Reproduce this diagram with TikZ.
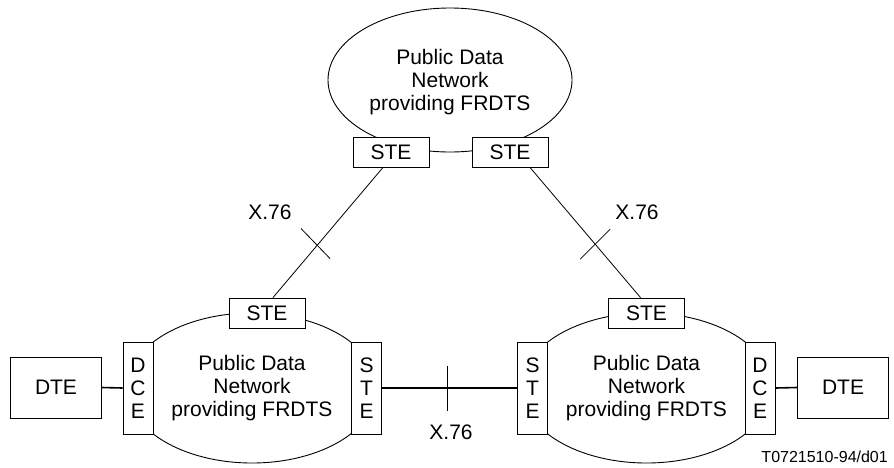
\documentclass[tikz,border=0pt]{standalone}
\usepackage{fontspec}
\setmainfont{Liberation Sans}
\begin{document}
\begin{tikzpicture}[x=1pt,y=-1pt,
  every node/.style={font=\fontsize{21}{23}\selectfont, inner sep=0pt},
  box/.style={draw, fill=white, line width=0.9pt, align=center},
  hbox/.style={box, minimum width=76pt, minimum height=30pt},
  vbox/.style={box, minimum width=30pt, minimum height=92pt},
  dtebox/.style={box, minimum width=91pt, minimum height=61pt},
  net/.style={draw, line width=0.9pt},
  thin link/.style={line width=0.8pt},
  thick link/.style={line width=1.6pt},
  nettext/.style={align=center}]
\useasboundingbox (0,0) rectangle (894,467);

% networks
\draw[net] (450,80) ellipse [x radius=122, y radius=72];
\draw[net] (252,388) ellipse [x radius=125, y radius=75];
\draw[net] (646.5,388) ellipse [x radius=125, y radius=75];

\node[nettext] (netT) at (450,82) {Public Data\\Network\\providing FRDTS};
\node[nettext] (netL) at (252,388) {Public Data\\Network\\providing FRDTS};
\node[nettext] (netR) at (646.5,388) {Public Data\\Network\\providing FRDTS};

% signalling terminal equipment on the top network
\node[hbox] (steT1) at (391,152) {STE};
\node[hbox] (steT2) at (510,152) {STE};

% bottom left network
\node[hbox] (steL1) at (267,313) {STE};
\node[vbox] (dceL) at (138,388) {D\\C\\E};
\node[vbox] (steL2) at (366.5,388) {S\\T\\E};
\node[dtebox] (dteL) at (56,387.5) {DTE};

% bottom right network
\node[hbox] (steR1) at (646.5,313) {STE};
\node[vbox] (steR2) at (532.5,388) {S\\T\\E};
\node[vbox] (dceR) at (760,388) {D\\C\\E};
\node[dtebox] (dteR) at (843,387.5) {DTE};

% X.76 links
\draw[thin link] ([xshift=-8pt]steT1.south) -- coordinate[pos=0.6] (tk1) ([xshift=6pt]steL1.north);
\draw[thin link] ([xshift=20pt]steT2.south) -- coordinate[pos=0.59] (tk2) ([xshift=-6pt]steR1.north);
\draw[thick link] (steL2.east) -- coordinate (tk3) (steR2.west);
\draw[thick link] (dteL.east) -- (dceL.west);
\draw[thick link] (dceR.east) -- (dteR.west);

% cut marks across the links
\draw[thin link] ([shift={(-16,-17)}]tk1) -- ([shift={(13,13)}]tk1);
\draw[thin link] ([shift={(15,-15)}]tk2) -- ([shift={(-15,15)}]tk2);
\draw[thick link] ([shift={(-2,-22)}]tk3) -- ([shift={(-2,23)}]tk3);

\node (lblL) at (270,212) {X.76};
\node (lblR) at (637,212) {X.76};
\node (lblB) at (451,432) {X.76};

\node[font=\fontsize{16}{18}\selectfont, anchor=east] (ref) at (888,457) {T0721510-94/d01};
\end{tikzpicture}
\end{document}
